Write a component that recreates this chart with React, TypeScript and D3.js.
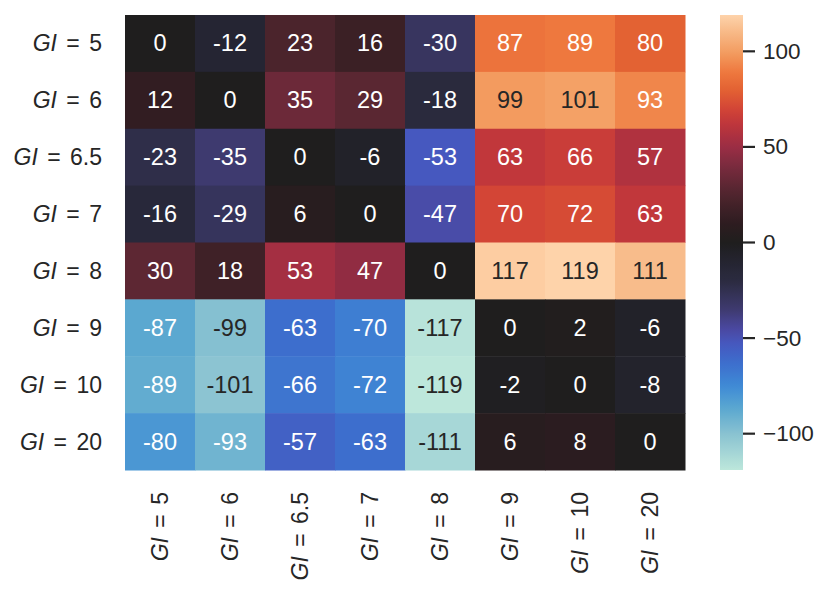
import React from "react";
import * as d3 from "d3";

const labels = ["5", "6", "6.5", "7", "8", "9", "10", "20"];

const values: number[][] = [
  [0, -12, 23, 16, -30, 87, 89, 80],
  [12, 0, 35, 29, -18, 99, 101, 93],
  [-23, -35, 0, -6, -53, 63, 66, 57],
  [-16, -29, 6, 0, -47, 70, 72, 63],
  [30, 18, 53, 47, 0, 117, 119, 111],
  [-87, -99, -63, -70, -117, 0, 2, -6],
  [-89, -101, -66, -72, -119, -2, 0, -8],
  [-80, -93, -57, -63, -111, 6, 8, 0],
];

const cbarTicks = [-100, -50, 0, 50, 100];

// icefire-like palette, sampled by eye
const stopValues = [-119, -100, -87, -75, -63, -53, -45, -35, -20, -10, 0, 10, 20, 30, 40, 50, 57, 63, 70, 80, 89, 99, 111, 119];
const stopColors = [
  "#bde7db", "#89c2d1", "#5ba8d0", "#3f8ad5", "#3d6ecd", "#4658bf", "#4a48a0", "#3e3a6f",
  "#2b2b40", "#242430", "#1f1e1e", "#2e1c20", "#432229", "#5d2733", "#7a2b3e", "#9b2d44",
  "#b0323f", "#c1373b", "#d34536", "#e36233", "#ee783e", "#f39b5f", "#f8bc8b", "#fed3aa",
];

const W = 830;
const H = 595;
const left = 125;
const top = 15;
const hmW = 560;
const hmH = 455;
const cbX = 720;
const cbW = 23;
const font = "'Liberation Sans', Arial, sans-serif";

function luminance(c: string) {
  const rgb = d3.rgb(c);
  const lin = (v: number) => {
    const s = v / 255;
    return s <= 0.03928 ? s / 12.92 : Math.pow((s + 0.055) / 1.055, 2.4);
  };
  return 0.2126 * lin(rgb.r) + 0.7152 * lin(rgb.g) + 0.0722 * lin(rgb.b);
}

// "GI = x" like matplotlib mathtext: italic GI, wider gaps round "="
const GILabel = ({ v }: { v: string }) => (
  <>
    <tspan fontStyle="italic">GI</tspan>
    <tspan dx={3}> =</tspan>
    <tspan dx={3}> {v}</tspan>
  </>
);

export default function App() {
  const color = d3
    .scaleLinear<string>()
    .domain(stopValues)
    .range(stopColors)
    .interpolate(d3.interpolateRgb)
    .clamp(true);

  const x = d3.scaleBand().domain(labels).range([left, left + hmW]);
  const y = d3.scaleBand().domain(labels).range([top, top + hmH]);
  const cy = d3.scaleLinear().domain([-119, 119]).range([top + hmH, top]);

  const gradSteps = d3.range(0, 101).map((i) => i / 100);

  return (
    <svg
      width={W}
      height={H}
      style={{ position: "absolute", left: 0, top: 0, background: "#fff" }}
      fontFamily={font}
    >
      <defs>
        <linearGradient id="cbar" x1="0" y1="1" x2="0" y2="0">
          {gradSteps.map((t) => (
            <stop key={t} offset={t} stopColor={color(-119 + t * 238)} />
          ))}
        </linearGradient>
      </defs>

      {values.map((row, i) =>
        row.map((v, j) => {
          const fill = color(v);
          const txt = luminance(fill) > 0.408 ? "#262626" : "#ffffff";
          return (
            <g key={`${i}-${j}`}>
              <rect
                x={x(labels[j])}
                y={y(labels[i])}
                width={x.bandwidth() + 0.5}
                height={y.bandwidth() + 0.5}
                fill={fill}
              />
              <text
                x={(x(labels[j]) as number) + x.bandwidth() / 2}
                y={(y(labels[i]) as number) + y.bandwidth() / 2}
                textAnchor="middle"
                dominantBaseline="central"
                fontSize={23.5}
                fill={txt}
              >
                {v}
              </text>
            </g>
          );
        })
      )}

      {labels.map((l) => (
        <text
          key={"y" + l}
          x={102}
          y={(y(l) as number) + y.bandwidth() / 2}
          textAnchor="end"
          dominantBaseline="central"
          fontSize={23}
          fill="#262626"
        >
          <GILabel v={l} />
        </text>
      ))}

      {labels.map((l) => {
        const cx = (x(l) as number) + x.bandwidth() / 2;
        return (
          <text
            key={"x" + l}
            transform={`translate(${cx},492) rotate(-90)`}
            textAnchor="end"
            dominantBaseline="central"
            fontSize={23}
            fill="#262626"
          >
            <GILabel v={l} />
          </text>
        );
      })}

      <rect x={cbX} y={top} width={cbW} height={hmH} fill="url(#cbar)" />
      {cbarTicks.map((t) => (
        <g key={"c" + t} transform={`translate(${cbX + cbW},${cy(t)})`}>
          <line x1={0} x2={12} stroke="#262626" strokeWidth={2.2} />
          <text x={20} dominantBaseline="central" fontSize={22.5} fill="#262626">
            {t < 0 ? "\u2212" + Math.abs(t) : String(t)}
          </text>
        </g>
      ))}
    </svg>
  );
}
